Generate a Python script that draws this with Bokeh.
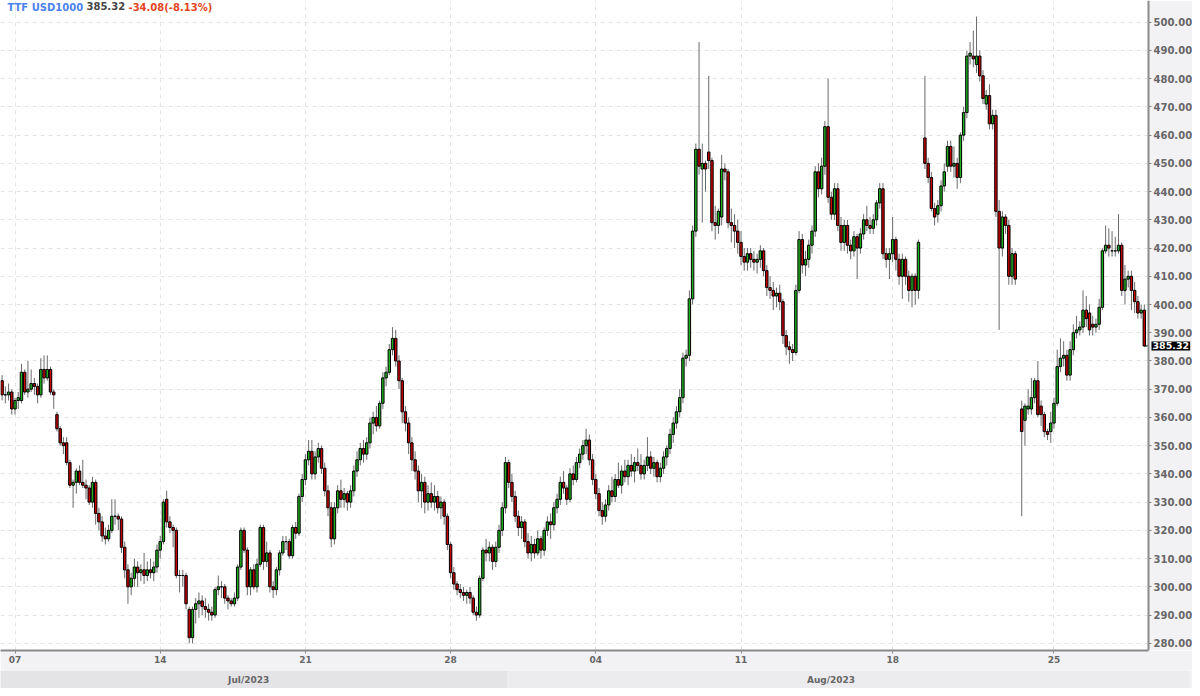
import numpy as np
from bokeh.plotting import figure
from bokeh.models import Range1d, FixedTicker, PrintfTickFormatter, Label
from bokeh.layouts import column
from bokeh.embed import file_html
from bokeh.resources import INLINE
from bokeh.core.properties import value

# ---------------- data (hourly TTF candles, Jul 6 - Aug 29 2023) ----------------
opens = [
    373,368,368,369,363,366,366,376,369,370,
    372,371,368,377,374,377,369,361,356,351,
    351,344,336,337,341,337,336,335,330,337,
    326,323,318,317,320,325,325,324,314,306,
    300,303,307,305,306,304,306,305,307,313,
    316,331,323,321,320,304,304,304,292,282,
    292,294,295,293,292,291,290,299,300,300,
    296,295,294,296,307,320,313,300,306,300,
    308,321,309,312,300,299,306,312,316,316,
    311,321,319,332,338,345,348,340,346,349,
    342,334,328,317,328,334,331,333,330,334,
    341,345,349,347,351,358,360,357,365,374,
    376,384,388,380,373,362,358,351,345,341,
    334,337,330,333,330,332,328,330,325,315,
    305,301,299,298,297,298,296,291,290,303,
    313,312,314,309,314,320,328,344,337,332,
    325,321,323,316,312,315,312,317,313,320,
    323,322,328,331,337,335,331,340,338,344,
    347,350,352,345,338,333,327,325,329,334,
    332,338,336,341,339,343,341,344,343,340,
    343,346,342,344,339,342,346,349,354,358,
    362,367,381,382,402,426,455,448,450,454,
    451,429,428,431,448,447,429,428,426,422,
    417,415,418,416,415,416,419,412,406,405,
    403,404,401,389,385,384,383,405,423,414,
    416,421,426,447,441,449,463,438,432,441,
    428,422,428,421,419,424,420,425,430,428,
    427,430,436,441,418,416,418,423,416,410,
    416,410,405,410,405,None,459,450,445,434,
    432,435,442,449,456,449,450,445,460,468,
    488,488,485,488,481,471,474,464,467,433,
    420,431,428,410,418,None,363,359,363,363,
    367,373,364,361,355,355,358,365,378,381,
    382,375,384,390,391,392,398,397,393,392,
    393,399,419,421,419,419,419,421,405,409,
    410,405,401,397,398,
]
highs = [
    375,371,372,370,367,369,379,377,380,377,
    374,372,381,382,382,378,370,362,357,353,
    353,345,338,342,343,345,338,336,339,338,
    328,325,321,322,331,331,326,325,316,308,
    305,310,309,308,312,309,310,309,315,318,
    331,334,325,322,321,306,306,305,293,293,
    296,298,297,296,294,293,300,304,302,301,
    297,296,298,308,321,321,314,307,308,310,
    322,322,316,313,302,307,313,318,318,317,
    322,323,333,340,347,352,352,348,351,350,
    344,336,330,330,336,338,335,334,336,343,
    348,351,352,353,360,362,364,366,376,378,
    386,392,391,382,374,364,360,353,348,343,
    340,339,336,337,336,334,332,331,326,316,
    307,302,301,300,299,300,297,293,304,314,
    317,316,315,316,322,330,346,345,340,334,
    327,325,324,319,318,317,320,318,321,325,
    326,330,333,339,341,336,342,343,346,349,
    352,356,354,347,340,335,330,331,336,339,
    340,344,343,345,345,347,346,349,347,345,
    353,348,346,345,344,348,350,356,360,364,
    370,383,384,405,428,457,493,457,451,481,
    452,435,434,453,450,448,434,432,430,426,
    420,420,420,419,418,421,420,414,410,408,
    406,407,402,391,387,386,407,426,425,419,
    423,428,449,450,452,465,480,440,443,443,
    431,430,430,423,426,425,427,432,435,431,
    432,437,443,443,420,420,431,424,418,418,
    417,412,411,411,423,None,481,452,447,436,
    437,444,450,458,458,456,452,461,470,490,
    493,497,502,490,483,476,478,469,469,437,
    433,432,430,420,419,None,366,365,370,374,
    374,380,366,362,356,362,367,384,388,387,
    384,387,393,396,394,405,403,400,396,395,
    402,420,428,427,426,424,432,422,414,412,
    412,408,403,400,400,
]
lows = [
    366,365,366,361,361,363,365,368,367,369,
    368,365,367,372,373,368,363,355,350,347,
    343,335,328,333,336,335,331,329,328,322,
    320,316,315,316,319,322,320,312,303,294,
    297,300,300,302,301,302,303,302,305,310,
    315,321,319,314,303,298,300,292,280,280,
    287,289,290,289,288,288,289,297,296,294,
    292,293,293,295,306,312,297,297,299,298,
    307,306,307,298,296,297,304,311,313,310,
    310,317,318,330,336,343,338,338,344,340,
    332,325,314,315,326,328,328,327,328,332,
    339,343,344,345,349,354,355,356,363,371,
    375,382,378,370,358,355,347,341,338,330,
    328,326,327,328,327,326,324,322,313,303,
    299,297,296,295,294,294,290,288,289,302,
    309,309,306,307,312,318,326,335,330,323,
    318,317,314,310,309,310,311,310,311,318,
    317,320,326,329,333,329,330,336,337,342,
    345,347,343,336,331,325,322,323,327,330,
    330,335,333,337,336,339,337,341,338,338,
    341,340,339,337,337,340,343,347,351,356,
    360,365,378,380,400,424,446,429,440,448,
    426,423,425,428,444,427,422,420,418,414,
    412,412,413,412,411,413,410,403,402,398,
    399,398,386,382,379,380,382,404,411,410,
    413,418,424,438,439,446,436,430,430,426,
    419,419,418,416,417,409,418,423,426,425,
    425,428,434,416,413,409,415,412,407,402,
    407,401,399,400,402,None,448,443,433,428,
    429,433,440,447,447,445,441,443,458,466,
    485,484,482,479,471,469,462,462,431,391,
    417,425,407,407,407,None,325,350,361,361,
    365,360,357,353,352,351,356,364,376,378,
    373,373,382,388,389,390,392,389,389,390,
    391,398,418,417,417,417,418,403,400,406,
    398,397,395,395,385,
]
closes = [
    368,368,369,363,366,367,376,369,370,372,
    371,368,377,374,377,369,368,356,351,350,
    344,336,337,341,337,336,335,330,337,326,
    323,318,317,320,325,325,324,314,306,300,
    303,307,305,306,304,306,305,307,313,316,
    330,323,321,320,304,304,304,294,282,292,
    294,295,293,292,291,290,299,300,300,296,
    295,294,296,307,320,313,300,306,300,308,
    321,309,312,300,299,306,312,316,316,311,
    321,319,332,338,345,348,340,346,349,342,
    334,328,317,328,334,331,333,330,334,341,
    345,349,347,351,358,360,357,365,374,376,
    384,388,380,373,362,358,351,345,341,334,
    337,330,333,330,332,328,330,325,315,305,
    301,299,298,297,298,296,291,290,303,313,
    312,314,309,314,320,328,344,337,332,325,
    321,323,316,312,315,312,317,313,320,323,
    322,328,331,337,335,331,340,338,344,347,
    350,352,345,338,333,327,325,329,334,332,
    338,336,341,339,343,341,344,343,340,343,
    346,342,344,339,342,346,349,354,358,362,
    367,381,382,402,426,455,449,450,448,451,
    429,428,433,448,447,429,428,426,422,417,
    415,418,416,415,416,419,412,406,405,403,
    404,401,389,385,384,383,405,423,414,416,
    421,426,447,441,449,463,438,432,441,428,
    422,428,421,419,424,420,425,430,428,427,
    430,436,441,418,416,418,423,416,410,416,
    410,405,410,405,422,None,450,445,434,431,
    435,442,447,456,449,450,445,460,468,488,
    489,487,488,481,473,474,464,467,433,420,
    431,428,410,418,409,None,355,364,364,367,
    373,361,361,355,354,358,365,378,381,382,
    375,384,390,391,392,398,395,391,392,393,
    399,419,421,420,419,419,421,405,409,410,
    405,401,397,398,385.32,
]

x_tick_pos = [4, 49, 94, 139, 184, 229, 276, 326]
x_tick_labels = ["07", "14", "21", "28", "04", "11", "18", "25"]
y_ticks = [280, 290, 300, 310, 320, 330, 340, 350, 360, 370, 380, 390,
           400, 410, 420, 430, 440, 450, 460, 470, 480, 490, 500]
months = ["Jul/2023", "Aug/2023"]
month_split = 156.5
month_label_x = [76.4, 256.9]
symbol = "TTF USD1000"
last_text = "385.32"
change_text = "-34.08(-8.13%)"

# ---------------- build ----------------
def arr(a):
    return np.array([np.nan if v is None else v for v in a], dtype=float)

O, H, L, C = arr(opens), arr(highs), arr(lows), arr(closes)
X = np.arange(len(C), dtype=float)
ok = np.isfinite(C)
up = ok & (C >= O)
dn = ok & (C < O)

FONT = "DejaVu Sans"
W = 1192
AXIS_PX = 1148                      # pixel column of the price axis line
X0 = -0.5
scale = 3.2266                      # pixels per candle
X_AX = X0 + AXIS_PX / scale         # data x of the price axis
X_END = X0 + W / scale
Y0, Y1 = 277.44, 507.69

p = figure(width=W, height=670, x_range=Range1d(X0, X_END), y_range=Range1d(Y0, Y1),
           toolbar_location=None, output_backend="svg", y_axis_location="right",
           x_axis_location="below", min_border=0)
p.min_border_left = 0
p.min_border_top = 0
p.min_border_right = 0
p.min_border_bottom = 20
p.background_fill_color = "white"
p.border_fill_color = "#f2f2f4"
p.outline_line_color = None

xt = FixedTicker(ticks=x_tick_pos)
yt = FixedTicker(ticks=y_ticks)
p.xaxis.ticker = xt
p.yaxis.ticker = yt
p.xgrid.ticker = xt
p.ygrid.ticker = yt
p.xaxis.major_label_overrides = {k: v for k, v in zip(x_tick_pos, x_tick_labels)}
p.xaxis.bounds = (X0, X_AX)
p.yaxis.fixed_location = X_AX
p.yaxis.formatter = PrintfTickFormatter(format="%.2f")
for g in (p.xgrid, p.ygrid):
    g.grid_line_color = "#e4e4e4"
    g.grid_line_dash = "4 4"
    g.grid_line_width = 1

for ax in (p.xaxis, p.yaxis):
    ax.axis_line_color = "#8a8a8a"
    ax.axis_line_width = 2
    ax.major_tick_line_color = "#8a8a8a"
    ax.major_tick_in = 0
    ax.minor_tick_line_color = None
    ax.major_label_text_font = FONT
    ax.major_label_text_font_style = "bold"
    ax.major_label_text_color = "#666666"
p.xaxis.major_tick_out = 3
p.xaxis.major_label_standoff = 2
p.xaxis.major_label_text_font_size = "9px"
p.yaxis.major_tick_out = 3
p.yaxis.major_label_standoff = 2
p.yaxis.major_label_text_font_size = "10px"

# grey panel behind the price axis
p.quad(left=[X_AX], right=[X_END], bottom=[Y0], top=[Y1], fill_color="#f2f2f4", line_color=None)

# wicks
p.segment(x0=X[ok], y0=H[ok], x1=X[ok], y1=L[ok], line_color="#6a6a6a", line_width=1)
# bodies
p.vbar(x=X[up], width=0.75, top=C[up], bottom=O[up], fill_color="#1fb01f",
       line_color="black", line_width=1)
p.vbar(x=X[dn], width=0.75, top=O[dn], bottom=C[dn], fill_color="#c80000",
       line_color="black", line_width=1)

# last price line
last_i = int(np.where(ok)[0][-1])
p.segment(x0=[X[last_i]], y0=[C[last_i]], x1=[X_AX], y1=[C[last_i]], line_color="black", line_width=1)

# title parts (placed at the reference pixel offsets, expressed in data units)
for txt, px, col in ((symbol, 7.0, "#4d82ee"), (last_text, 86.0, "#444444"),
                     (change_text, 128.0, "#e2451e")):
    p.add_layout(Label(x=X0 + px / scale, y=507.2, text=txt, text_font=FONT,
                       text_font_size="10px", text_font_style="bold", text_color=col,
                       text_baseline="top"))

# last price tag on the axis
p.add_layout(Label(x=X_AX + 3.0 / scale, y=C[last_i], text=last_text, text_font=FONT,
                   text_font_size="9.5px", text_font_style="bold", text_color="white",
                   text_baseline="middle", background_fill_color="black", padding=1))

# month band
p2 = figure(width=W, height=18, x_range=Range1d(X0, X_END),
            y_range=Range1d(0, 1), toolbar_location=None, output_backend="svg",
            x_axis_location=None, y_axis_location=None, min_border=0)
p2.grid.visible = False
p2.outline_line_color = None
p2.background_fill_color = "#f2f2f4"
p2.border_fill_color = "#f2f2f4"
p2.quad(left=[X0, month_split], right=[month_split, X_END - 1.0], bottom=0, top=1,
        fill_color=["#e4e4e6", "#ececee"], line_color=None)
p2.text(x=month_label_x, y=[0.5, 0.5], text=months, text_align="center",
        text_baseline="middle", text_font=value(FONT), text_font_size="9px",
        text_font_style="bold", text_color="#666666")

layout = column(p, p2, spacing=0)
open("out.html", "w").write(file_html(layout, INLINE))
